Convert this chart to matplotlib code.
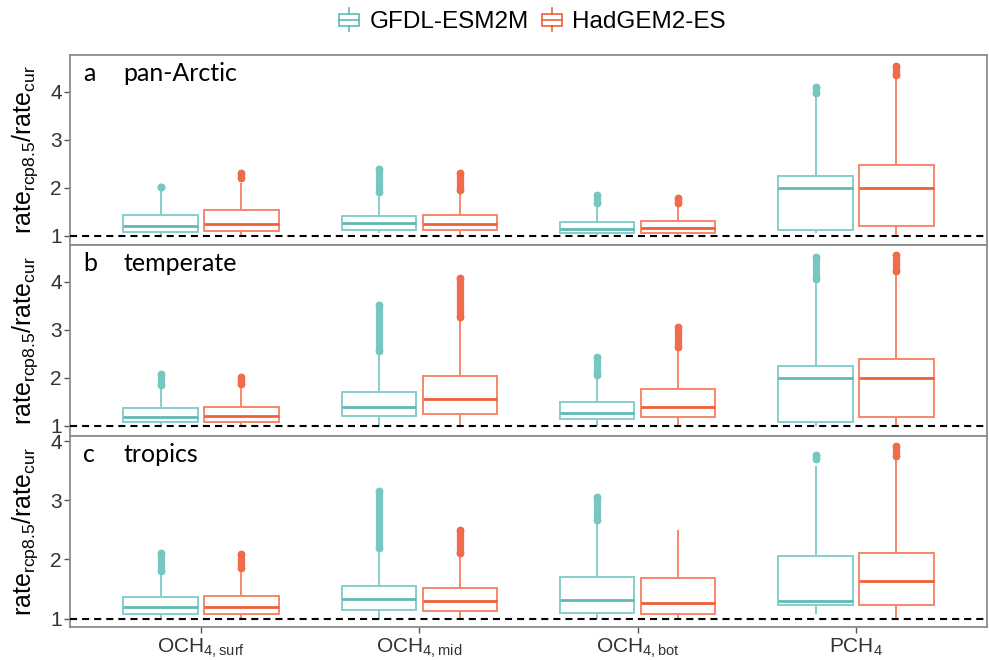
import matplotlib
matplotlib.use('Agg')
import matplotlib.pyplot as plt
from matplotlib.patches import Rectangle, Patch
from matplotlib.lines import Line2D
from matplotlib.legend_handler import HandlerBase

plt.rcParams['font.family'] = ['Liberation Sans', 'DejaVu Sans']
plt.rcParams['mathtext.default'] = 'regular'

# ---------------- data ----------------
categories = [r'$OCH_{4,surf}$', r'$OCH_{4,mid}$', r'$OCH_{4,bot}$', r'$PCH_{4}$']
models = ['GFDL-ESM2M', 'HadGEM2-ES']
regions = ['a', 'b', 'c']
region_names = ['pan-Arctic', 'temperate', 'tropics']

# per region: one value per category (surf, mid, bot, PCH4)
gfdl_q1 = [[1.08, 1.12, 1.06, 1.12], [1.08, 1.21, 1.14, 1.08], [1.08, 1.15, 1.10, 1.23]]
gfdl_med = [[1.21, 1.26, 1.14, 1.99], [1.19, 1.40, 1.26, 2.00], [1.20, 1.33, 1.31, 1.29]]
gfdl_q3 = [[1.44, 1.42, 1.28, 2.25], [1.38, 1.71, 1.49, 2.25], [1.37, 1.55, 1.71, 2.05]]
gfdl_wlo = [[1.00, 1.05, 1.00, 1.05], [1.00, 1.00, 1.00, 1.00], [1.00, 1.00, 1.00, 1.07]]
gfdl_whi = [[1.97, 1.85, 1.60, 3.90], [1.78, 2.48, 1.99, 3.98], [1.75, 2.13, 2.61, 3.58]]
gfdl_olo = [[2.01, 1.92, 1.68, 3.97], [1.85, 2.55, 2.06, 4.05], [1.81, 2.19, 2.67, 3.69]]
gfdl_ohi = [[2.01, 2.39, 1.85, 4.10], [2.08, 3.51, 2.44, 4.51], [2.11, 3.16, 3.06, 3.77]]

had_q1 = [[1.11, 1.12, 1.07, 1.21], [1.08, 1.25, 1.19, 1.18], [1.08, 1.13, 1.08, 1.23]]
had_med = [[1.25, 1.25, 1.17, 1.99], [1.21, 1.55, 1.40, 2.00], [1.20, 1.29, 1.27, 1.63]]
had_q3 = [[1.53, 1.44, 1.32, 2.48], [1.39, 2.04, 1.77, 2.39], [1.38, 1.51, 1.68, 2.11]]
had_wlo = [[1.00, 1.00, 1.00, 1.00], [1.00, 1.00, 1.00, 1.00], [1.00, 1.00, 1.00, 1.00]]
had_whi = [[2.10, 1.88, 1.61, 4.28], [1.80, 3.20, 2.58, 4.15], [1.79, 2.05, 2.50, 3.69]]
had_olo = [[2.20, 1.96, 1.68, 4.35], [1.87, 3.27, 2.65, 4.22], [1.85, 2.11, None, 3.75]]
had_ohi = [[2.32, 2.32, 1.80, 4.55], [2.02, 4.07, 3.05, 4.55], [2.09, 2.50, None, 3.91]]

ylims = [(0.81, 4.77), (0.79, 4.76), (0.857, 4.085)]
yticks = [1, 2, 3, 4]

# ---------------- style ----------------
teal_edge = '#86cfcb'
teal_med = '#5fbab5'
teal_out = '#78c6c2'
red_edge = '#f7876a'
red_med = '#f05f39'
red_out = '#ee6c4b'

W, H = 989, 660
fig = plt.figure(figsize=(W / 100, H / 100), dpi=100)
panel_px = [(55, 245), (245, 436), (436, 627)]
x_left, x_right = 70, 987

box_w = 0.34
dodge = 0.185


def draw_box(ax, x, q1, med, q3, wlo, whi, olo, ohi, edge, medc, outc):
    ax.plot([x, x], [q3, whi], color=edge, lw=1.4, zorder=2, solid_capstyle='butt')
    ax.plot([x, x], [wlo, q1], color=edge, lw=1.4, zorder=2, solid_capstyle='butt')
    ax.add_patch(Rectangle((x - box_w / 2, q1), box_w, q3 - q1, facecolor='white',
                           edgecolor=edge, lw=1.4, zorder=2))
    ax.plot([x - box_w / 2, x + box_w / 2], [med, med], color=medc, lw=2.0, zorder=3,
            solid_capstyle='butt')
    if olo is not None:
        ax.plot([x, x], [olo, ohi], color=outc, lw=5.2, zorder=3, solid_capstyle='round',
                marker='o', ms=5.6, mec='none', mfc=outc)


axes = []
for i, (top, bot) in enumerate(panel_px):
    ax = fig.add_axes([x_left / W, 1 - bot / H, (x_right - x_left) / W, (bot - top) / H])
    axes.append(ax)
    xs = range(1, len(categories) + 1)
    for j, xc in enumerate(xs):
        draw_box(ax, xc - dodge, gfdl_q1[i][j], gfdl_med[i][j], gfdl_q3[i][j],
                 gfdl_wlo[i][j], gfdl_whi[i][j], gfdl_olo[i][j], gfdl_ohi[i][j],
                 teal_edge, teal_med, teal_out)
        draw_box(ax, xc + dodge, had_q1[i][j], had_med[i][j], had_q3[i][j],
                 had_wlo[i][j], had_whi[i][j], had_olo[i][j], had_ohi[i][j],
                 red_edge, red_med, red_out)
    ax.axhline(1, color='black', lw=1.5, ls=(0, (3.4, 2.4)), zorder=4)
    ax.set_xlim(0.4, 4.6)
    ax.set_ylim(*ylims[i])
    ax.set_yticks(yticks)
    ax.set_yticklabels([str(t) for t in yticks])
    ax.tick_params(axis='y', length=4, width=1, color='#555555', labelsize=15,
                   labelcolor='#333333', pad=2)
    for s in ax.spines.values():
        s.set_color('#8c8c8c')
        s.set_linewidth(1.3)
    if i < 2:
        ax.set_xticks([])
    else:
        ax.set_xticks(list(xs))
        ax.set_xticklabels(categories)
        ax.tick_params(axis='x', length=4, width=1, color='#555555', labelsize=15,
                       labelcolor='#333333', pad=3)
    ax.set_ylabel(r'rate$_{rcp8.5}$/rate$_{cur}$', fontsize=18, color='black')
    ax.yaxis.set_label_coords(-0.033, 0.5)
    ax.text(0.014, 0.905, regions[i], transform=ax.transAxes, fontsize=18,
            family=['Lato', 'DejaVu Sans'], va='center', ha='left')
    ax.text(0.058, 0.905, region_names[i], transform=ax.transAxes, fontsize=18,
            family=['Lato', 'DejaVu Sans'], va='center', ha='left')


class BoxHandler(HandlerBase):
    def create_artists(self, legend, orig_handle, xdescent, ydescent, width, height,
                       fontsize, trans):
        c = orig_handle.get_edgecolor()
        cx = width / 2 - xdescent
        cy = height / 2 - ydescent
        bw = width * 0.9
        bh = height * 0.6
        rect = Rectangle((cx - bw / 2, cy - bh / 2), bw, bh, fill=False, edgecolor=c,
                         lw=1.2, transform=trans)
        med = Line2D([cx - bw / 2, cx + bw / 2], [cy, cy], color=c, lw=1.2, transform=trans)
        w1 = Line2D([cx, cx], [cy + bh / 2, cy + height * 0.62], color=c, lw=1.2,
                    transform=trans)
        w2 = Line2D([cx, cx], [cy - bh / 2, cy - height * 0.62], color=c, lw=1.2,
                    transform=trans)
        return [rect, med, w1, w2]


handles = [Patch(edgecolor=teal_med, facecolor='none'), Patch(edgecolor=red_med, facecolor='none')]
fig.legend(handles=handles, labels=models, loc='center', bbox_to_anchor=(532 / W, 1 - 22 / H),
           ncol=2, frameon=False, fontsize=17.5, handler_map={Patch: BoxHandler()},
           handlelength=0.9, handleheight=0.8, columnspacing=0.5, handletextpad=0.4)

fig.savefig('out.png', dpi=100)
